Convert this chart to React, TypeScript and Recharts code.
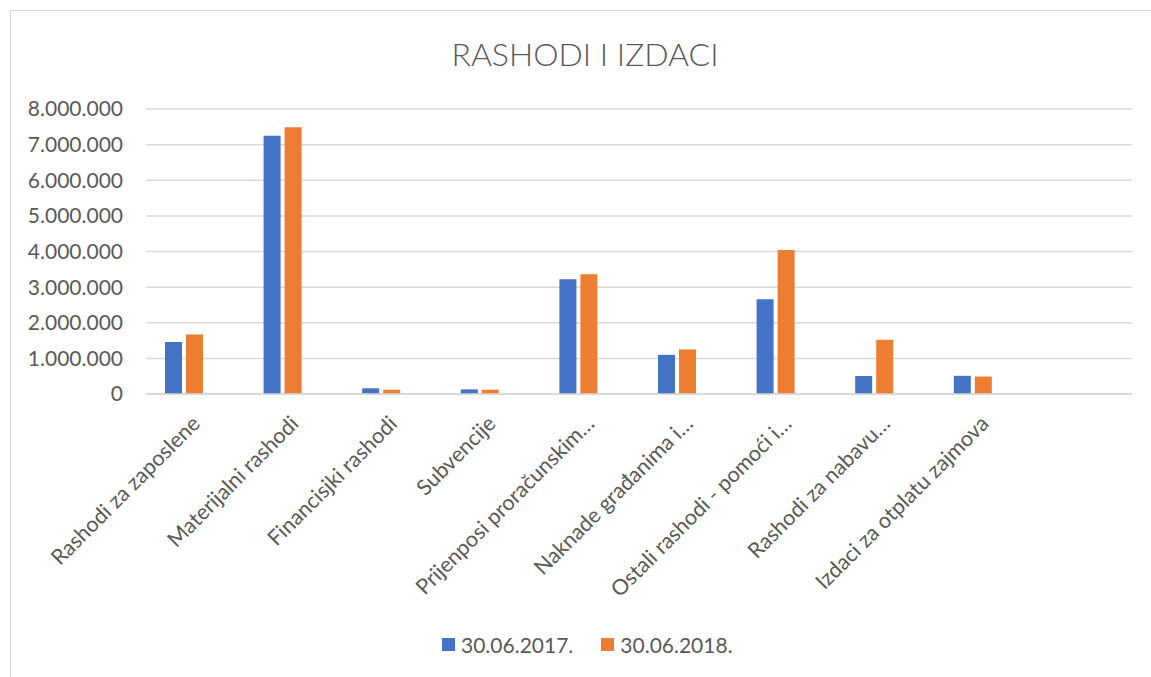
import { Bar, BarChart, CartesianGrid, Legend, XAxis, YAxis } from 'recharts'

// Kategorije rashoda (zadnja je prazna, kao u izvorniku)
const categories = [
  'Rashodi za zaposlene',
  'Materijalni rashodi',
  'Financisjki rashodi',
  'Subvencije',
  'Prijenposi proračunskim…',
  'Naknade građanima i…',
  'Ostali rashodi - pomoći i…',
  'Rashodi za nabavu…',
  'Izdaci za otplatu zajmova',
  '',
]

const values2017 = [1460000, 7250000, 160000, 130000, 3220000, 1100000, 2660000, 505000, 510000, null]
const values2018 = [1670000, 7490000, 120000, 120000, 3360000, 1250000, 4040000, 1520000, 490000, null]

const yTicks = [0, 1000000, 2000000, 3000000, 4000000, 5000000, 6000000, 7000000, 8000000]

const SERIES = [
  { key: 'y2017', name: '30.06.2017.', color: '#4472C4' },
  { key: 'y2018', name: '30.06.2018.', color: '#ED7D31' },
]

const data = categories.map((name, i) => ({ name, y2017: values2017[i], y2018: values2018[i] }))

const FONT = 'Lato, "Open Sans", sans-serif'
const TEXT = '#595959'
const GRID = '#D9D9D9'

/** 8000000 -> "8.000.000" */
function dotTick(v: number): string {
  return String(v).replace(/\B(?=(\d{3})+(?!\d))/g, '.')
}

function CategoryTick(props: any) {
  const { x, y, payload } = props
  return (
    <g transform={`translate(${x + 17},${y + 31})`}>
      <text transform="rotate(-45)" textAnchor="end" fill={TEXT} fontSize={21.5} fontFamily={FONT}>
        {payload.value}
      </text>
    </g>
  )
}

function LegendContent() {
  return (
    <div style={{ display: 'flex', alignItems: 'center', fontFamily: FONT, fontSize: 21, color: TEXT }}>
      {SERIES.map((s, i) => (
        <div key={s.key} style={{ display: 'flex', alignItems: 'center', marginLeft: i ? 28 : 0 }}>
          <span style={{ width: 13, height: 13, background: s.color, display: 'inline-block', marginRight: 6 }} />
          <span>{s.name}</span>
        </div>
      ))}
    </div>
  )
}

export default function App() {
  return (
    <div style={{ position: 'absolute', left: 0, top: 0, width: 1151, height: 677, overflow: 'hidden', background: '#fff' }}>
      <div
        style={{
          position: 'absolute',
          left: 10,
          top: 10,
          width: 1170,
          height: 700,
          border: `1px solid ${GRID}`,
          boxSizing: 'border-box',
        }}
      />
      <div
        style={{
          position: 'absolute',
          left: 0,
          top: 34,
          width: 1170,
          textAlign: 'center',
          fontFamily: FONT,
          fontWeight: 300,
          fontSize: 32,
          lineHeight: '40px',
          color: TEXT,
        }}
      >
        RASHODI I IZDACI
      </div>
      <BarChart
        width={1151}
        height={677}
        data={data}
        margin={{ top: 109, right: 19, bottom: 0, left: 0 }}
        barGap={4}
        style={{ position: 'absolute', left: 0, top: 0 }}
      >
        <CartesianGrid vertical={false} stroke={GRID} strokeWidth={1.5} />
        <XAxis
          dataKey="name"
          interval={0}
          height={283}
          padding={{ left: -11, right: 11 }}
          tickLine={false}
          tickSize={0}
          tickMargin={0}
          axisLine={{ stroke: GRID, strokeWidth: 1.5 }}
          tick={<CategoryTick />}
        />
        <YAxis
          width={146}
          domain={[0, 8000000]}
          ticks={yTicks}
          interval={0}
          tickLine={false}
          axisLine={false}
          tickSize={0}
          tickMargin={23}
          tickFormatter={dotTick}
          tick={{ fontSize: 21, fill: TEXT, fontFamily: FONT }}
        />
        <Legend
          layout="horizontal"
          verticalAlign="middle"
          align="center"
          wrapperStyle={{ top: 632, left: 442, width: 320 }}
          content={<LegendContent />}
        />
        {SERIES.map((s) => (
          <Bar key={s.key} dataKey={s.key} name={s.name} fill={s.color} barSize={17} isAnimationActive={false} />
        ))}
      </BarChart>
    </div>
  )
}
